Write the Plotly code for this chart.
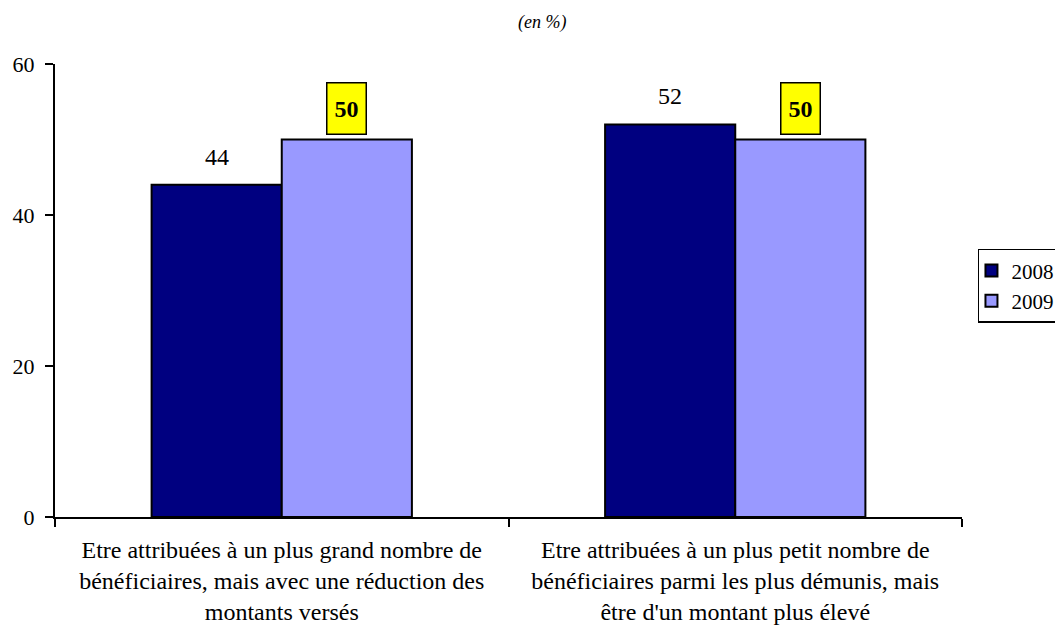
import plotly.graph_objects as go

categories = [
    "Etre attribuées à un plus grand nombre de<br>bénéficiaires, mais avec une réduction des<br>montants versés",
    "Etre attribuées à un plus petit nombre de<br>bénéficiaires parmi les plus démunis, mais<br>être d'un montant plus élevé",
]
values_2008 = [44, 52]
values_2009 = [50, 50]
y_ticks = [0, 20, 40, 60]

FONT = "Liberation Serif"
BARGAP = 0.426
# the page adds an 8px body margin, so the figure is drawn 8px smaller
W, H = 1055, 617

fig = go.Figure()
fig.add_trace(go.Bar(
    x=categories, y=values_2008, name="2008",
    marker=dict(color="#000080", line=dict(color="black", width=2)),
))
fig.add_trace(go.Bar(
    x=categories, y=values_2009, name="2009",
    marker=dict(color="#9999FF", line=dict(color="black", width=2)),
))

half = (1 - BARGAP) / 4
# plain labels for 2008
for i, v in enumerate(values_2008):
    fig.add_annotation(
        x=i - half, y=v, xref="x", yref="y",
        text=str(v), showarrow=False, yanchor="bottom", yshift=13,
        font=dict(family=FONT, size=24, color="black"),
    )
# yellow boxed labels for 2009
for i, v in enumerate(values_2009):
    fig.add_annotation(
        x=i + half, y=v, xref="x", yref="y",
        text="<b>%d</b>" % v, showarrow=False,
        yanchor="bottom", yshift=5,
        width=36, height=48,
        bgcolor="#FFFF00", bordercolor="black", borderwidth=1.5,
        font=dict(family=FONT, size=24, color="black"),
    )

fig.add_annotation(
    x=0.537, y=1.0927, xref="paper", yref="paper", text="<i>(en %)</i>",
    showarrow=False, yanchor="middle",
    font=dict(family=FONT, size=18, color="black"),
)

fig.update_layout(
    width=W, height=H,
    margin=dict(l=47, r=101, t=56, b=108, autoexpand=False),
    plot_bgcolor="white", paper_bgcolor="white",
    barmode="group", bargap=BARGAP, bargroupgap=0,
    font=dict(family=FONT, size=22, color="black"),
    showlegend=True,
    legend=dict(
        x=1.0176, y=0.592, xanchor="left", yanchor="top",
        bordercolor="black", borderwidth=1.5, bgcolor="white",
        font=dict(family=FONT, size=21, color="black"),
        itemwidth=30, tracegroupgap=0, indentation=-8,
    ),
    xaxis=dict(
        showline=True, linecolor="black", linewidth=2,
        ticks="outside", ticklen=8, tickwidth=2, tickcolor="black",
        tickson="boundaries", showgrid=False, ticklabelstandoff=10,
        tickfont=dict(family=FONT, size=24, color="black"),
    ),
    yaxis=dict(
        range=[0, 60], tickvals=y_ticks,
        showline=True, linecolor="black", linewidth=2,
        ticks="outside", ticklen=8, tickwidth=2, tickcolor="black",
        ticklabelstandoff=6,
        showgrid=False, zeroline=False,
        tickfont=dict(family=FONT, size=22, color="black"),
    ),
)

fig.write_html("out.html")
